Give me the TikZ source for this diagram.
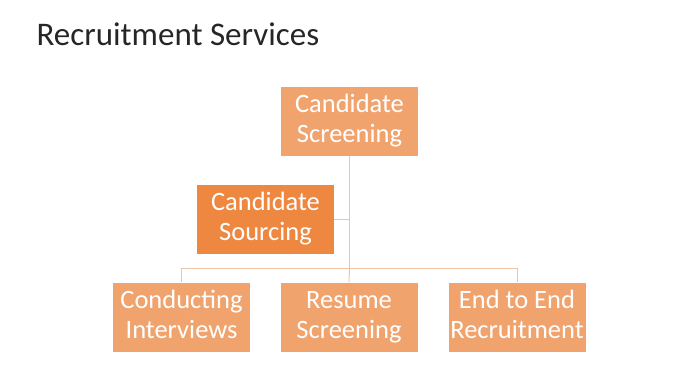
\documentclass[tikz,border=0pt]{standalone}
\usepackage{fontspec}
\setmainfont{Carlito}
\definecolor{boxlight}{HTML}{F1A36D}
\definecolor{boxdark}{HTML}{EE8740}
\definecolor{linkline}{HTML}{F0C4A2}

\begin{document}
\begin{tikzpicture}[x=1pt, y=1pt,
    box/.style={fill=boxlight, text=white, minimum width=137pt, minimum height=69pt,
      inner sep=0pt, align=center, font=\fontsize{26.5}{30}\selectfont},
    link/.style={draw=linkline, line width=1pt}]
  \useasboundingbox (0,0) rectangle (680,-380);
  \node[anchor=base west, font=\fontsize{33}{38}\selectfont, text=black!85] (title)
    at (33,-45) {Recruitment Services};
  \node[box] (screen) at (349.5,-121) {Candidate\strut\\Screening\strut};
  \node[box, fill=boxdark] (source) at (265.5,-219) {Candidate\strut\\Sourcing\strut};
  \node[box] (conduct) at (181.5,-317) {Conducting\strut\\Interviews\strut};
  \node[box] (resume) at (349,-317) {Resume\strut\\Screening\strut};
  \node[box] (endtoend) at (517,-317) {End to End\strut\\Recruitment\strut};
  \coordinate (bar) at (349.5,-268);
  \draw[link] (screen.south) -- (bar);
  \draw[link] (source.east) -- (screen.south |- source.east);
  \draw[link] (bar) -| (conduct.north);
  \draw[link] (bar) -| (endtoend.north);
  \draw[link] (bar) -- (resume.north);
\end{tikzpicture}
\end{document}
